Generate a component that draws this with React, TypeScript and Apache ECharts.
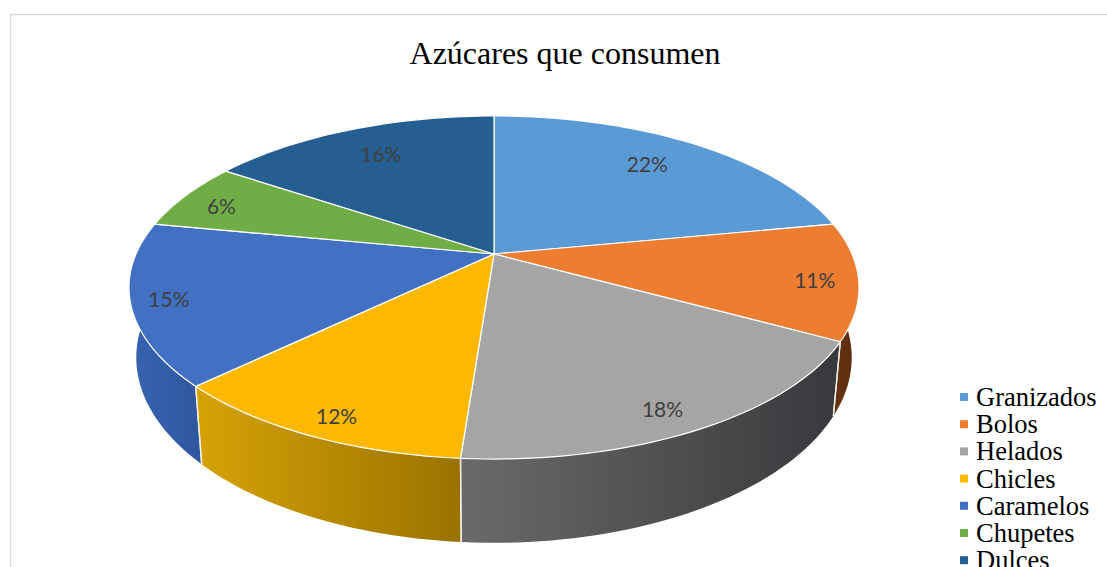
import React, { useEffect, useRef } from "react";
import * as echarts from "echarts";

const chartTitle = "Azúcares que consumen";
const categories = ["Granizados", "Bolos", "Helados", "Chicles", "Caramelos", "Chupetes", "Dulces"];
const percentages = [22, 11, 18.2, 11.6, 15.2, 6.4, 15.6];
const faceColors = ["#5b9bd5", "#ed7d31", "#a5a5a5", "#fdb900", "#4270c2", "#70ad47", "#255e91"];
const wallLeftColors = ["#2f5f8c", "#6a3512", "#6a6a6a", "#d6a306", "#3763b0", "#44702a", "#16395a"];
const wallRightColors = ["#2f5f8c", "#5a2c0e", "#38393c", "#9a7200", "#2f579e", "#44702a", "#16395a"];
const labelRadii = [0.78, 0.88, 0.9, 0.92, 0.9, 0.88, 0.79];
const labelNudges = [[-6, -2], [1, 2], [-13, 0], [10, -3], [0, 0], [1, 3], [4, 1]];

// perspective of the pie's top plane
const CX = 494, CY = 254, BX = 358, AY = 165, K = 0.1953;
const total = percentages.reduce((a, b) => a + b, 0);

function project(deg: number, r: number): [number, number] {
  const t = (deg * Math.PI) / 180;
  const u = Math.sin(t) * r;
  const v = -Math.cos(t) * r;
  const d = 1 - K * v;
  return [CX + (BX * u) / d, CY + (AY * v) / d];
}
function lower(p: [number, number]): [number, number] {
  return [CX + (p[0] - CX) * 0.98, p[1] + 78 + 0.08 * (p[1] - 387)];
}
function arc(a0: number, a1: number): [number, number][] {
  const n = Math.max(2, Math.ceil((a1 - a0) / 1.5));
  const out: [number, number][] = [];
  for (let i = 0; i <= n; i++) out.push(project(a0 + ((a1 - a0) * i) / n, 1));
  return out;
}

function renderSlice(index: number) {
  return (_params: any, api: any) => {
    const value = api.value(0);
    let before = 0;
    for (let i = 0; i < index; i++) before += percentages[i];
    const a0 = (before / total) * 360;
    const a1 = ((before + value) / total) * 360;
    const rim = arc(a0, a1);
    const base = rim.map(lower).reverse();
    const mid = (a0 + a1) / 2;
    const lp = project(mid, labelRadii[index]);
    const p0 = rim[0];
    const p1 = rim[rim.length - 1];
    return {
      type: "group",
      children: [
        {
          type: "polygon",
          z2: 1,
          shape: { points: [...rim, ...base] },
          style: {
            fill: {
              type: "linear", x: 0, y: 0, x2: 1, y2: 0,
              colorStops: [
                { offset: 0, color: wallLeftColors[index] },
                { offset: 1, color: wallRightColors[index] },
              ],
            },
          },
        },
        { type: "line", z2: 2, shape: { x1: p0[0], y1: p0[1], x2: lower(p0)[0], y2: lower(p0)[1] }, style: { stroke: "#f4f0e6", lineWidth: 1.3 } },
        { type: "line", z2: 2, shape: { x1: p1[0], y1: p1[1], x2: lower(p1)[0], y2: lower(p1)[1] }, style: { stroke: "#f4f0e6", lineWidth: 1.3 } },
        {
          type: "polygon",
          z2: 10,
          shape: { points: [[CX, CY], ...rim] },
          style: { fill: faceColors[index], stroke: "#ffffff", lineWidth: 1.2, lineJoin: "round" },
        },
        {
          type: "text",
          z2: 20,
          x: lp[0] + labelNudges[index][0],
          y: lp[1] + labelNudges[index][1],
          style: {
            text: `${Math.round(value)}%`,
            fill: "#404040",
            font: '21px Lato, "Open Sans", sans-serif',
            align: "center",
            verticalAlign: "middle",
          },
        },
      ],
    };
  };
}

export default function App() {
  const ref = useRef<HTMLDivElement>(null);
  useEffect(() => {
    document.body.style.margin = "0";
    const chart = echarts.init(ref.current!, undefined, { renderer: "svg" });
    chart.setOption({
      animation: false,
      backgroundColor: "#ffffff",
      title: {
        text: chartTitle,
        left: 560,
        top: 32,
        textAlign: "center",
        textStyle: { fontFamily: '"Liberation Serif", serif', fontSize: 32, fontWeight: "normal", color: "#000000" },
      },
      legend: {
        data: categories,
        orient: "vertical",
        left: 960,
        top: 383.5,
        width: 147,
        height: 240,
        itemWidth: 8,
        itemHeight: 8,
        itemGap: 0.2,
        icon: "rect",
        padding: 0,
        textStyle: { fontFamily: '"Liberation Serif", serif', fontSize: 26.5, color: "#000000", padding: [0, 0, 0, 3] },
      },
      graphic: [
        {
          type: "polyline",
          silent: true,
          z: 0,
          shape: { points: [[10.5, 567], [10.5, 14.5], [1107, 14.5]] },
          style: { stroke: "#d9d9d9", lineWidth: 1.5, fill: "none" },
        },
      ],
      series: categories.map((name, i) => ({
        type: "custom",
        name,
        coordinateSystem: "none",
        silent: true,
        itemStyle: { color: faceColors[i] },
        data: [[percentages[i]]],
        renderItem: renderSlice(i),
      })),
    });
    return () => chart.dispose();
  }, []);
  return <div ref={ref} style={{ position: "absolute", left: 0, top: 0, width: 1107, height: 567 }} />;
}
